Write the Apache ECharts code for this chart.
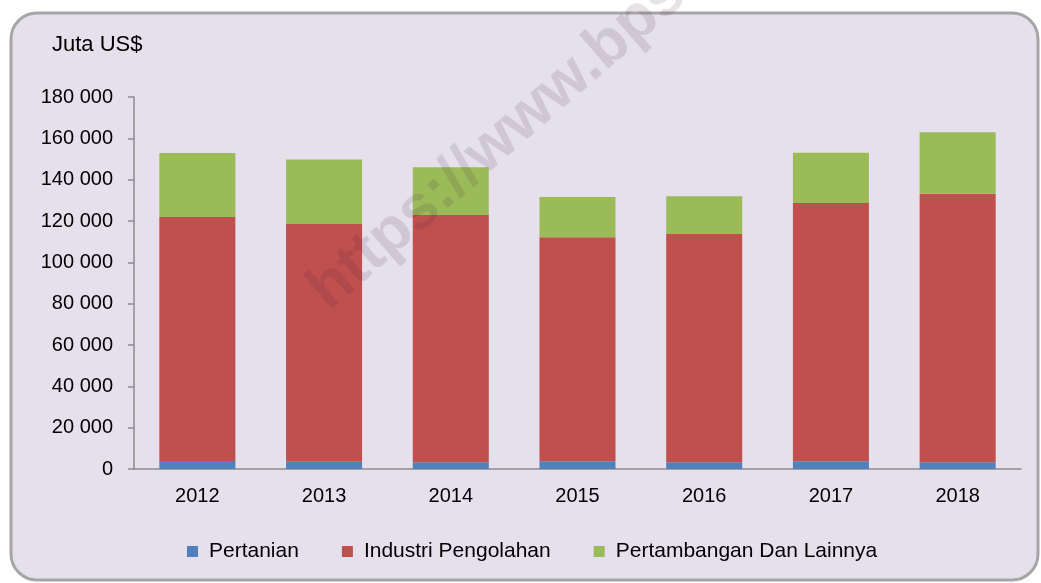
<!DOCTYPE html>
<html>
<head>
<meta charset="utf-8">
<style>
  html, body { margin: 0; padding: 0; background: #ffffff; }
  #chart { width: 1041px; height: 583px; }
</style>
<script src="https://cdn.jsdelivr.net/npm/echarts@6/dist/echarts.min.js"></script>
</head>
<body>
<div id="chart"></div>
<script>
// data (Juta US$)
const years = ['2012', '2013', '2014', '2015', '2016', '2017', '2018']
const pertanian = [3900, 3500, 3250, 3700, 3250, 3700, 3250]
const industri = [118000, 115000, 119650, 108400, 110450, 125000, 129950]
const pertambangan = [31000, 31300, 23100, 19500, 18250, 24350, 29700]
const seriesNames = ['Pertanian', 'Industri Pengolahan', 'Pertambangan Dan Lainnya']
const colors = ['#4F81BD', '#C0504D', '#9BBB59']

const font = '"Liberation Sans", Arial, sans-serif'
const axisColor = '#8c8c8c'

const chart = echarts.init(document.getElementById('chart'))

function fmt(v) {
  // thousands separated by a space
  return String(v).replace(/\B(?=(\d{3})+(?!\d))/g, ' ')
}

chart.setOption({
  animation: false,
  color: colors,
  textStyle: { fontFamily: font },
  graphic: [
    {
      type: 'rect',
      z: -10,
      shape: { x: 11, y: 13, width: 1027, height: 567, r: 26 },
      style: { fill: '#E5E0EC', stroke: '#A6A6A6', lineWidth: 3 }
    },
    {
      type: 'text',
      left: 52,
      top: 34,
      style: { text: 'Juta US$', fontSize: 22, fontFamily: font, fill: '#000' }
    },
    {
      // watermark
      type: 'text',
      x: 338,
      y: 322,
      rotation: 41 * Math.PI / 180,
      z: 100,
      style: {
        text: 'https://www.bps.go.id',
        fontSize: 62,
        fontWeight: 'bold',
        fontFamily: font,
        fill: 'rgba(60,30,60,0.13)',
        textVerticalAlign: 'bottom'
      }
    }
  ],
  grid: {
    left: 134,
    right: 20,
    top: 97,
    bottom: 114
  },
  legend: {
    left: 182,
    top: 536,
    itemWidth: 11,
    itemHeight: 11,
    itemGap: 43,
    icon: 'rect',
    textStyle: { fontSize: 21, color: '#000', fontFamily: font, padding: [0, 0, 0, 6] },
    data: seriesNames
  },
  xAxis: {
    type: 'category',
    data: years,
    axisLine: { lineStyle: { color: axisColor, width: 1.5 } },
    axisTick: { length: 7, lineStyle: { color: axisColor, width: 1.5 } },
    axisLabel: { fontSize: 20, color: '#000', margin: 17, fontFamily: font }
  },
  yAxis: {
    type: 'value',
    min: 0,
    max: 180000,
    interval: 20000,
    splitLine: { show: false },
    axisLine: { show: true, lineStyle: { color: axisColor, width: 1.5 } },
    axisTick: { show: true, length: 6, lineStyle: { color: axisColor, width: 1.5 } },
    axisLabel: { fontSize: 20, color: '#000', margin: 21, formatter: fmt, fontFamily: font }
  },
  series: [
    { name: seriesNames[0], type: 'bar', stack: 'total', barWidth: '60%', data: pertanian },
    { name: seriesNames[1], type: 'bar', stack: 'total', barWidth: '60%', data: industri },
    { name: seriesNames[2], type: 'bar', stack: 'total', barWidth: '60%', data: pertambangan }
  ]
})
</script>
</body>
</html>
